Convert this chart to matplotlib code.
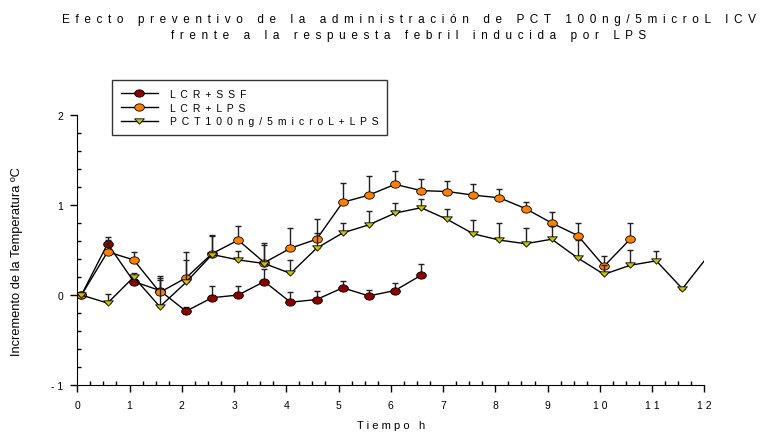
import numpy as np
import matplotlib
matplotlib.use("Agg")
import matplotlib.pyplot as plt
from matplotlib.path import Path
from matplotlib.ticker import MultipleLocator, FuncFormatter

plt.rcParams['font.family'] = ['Liberation Sans', 'DejaVu Sans']

# sampling times (h): every 30 min starting at 5 min
tiempo = [0.08, 0.58, 1.08, 1.58, 2.08, 2.58, 3.08, 3.58, 4.08, 4.58, 5.08, 5.58,
          6.08, 6.58, 7.08, 7.58, 8.08, 8.58, 9.08, 9.58, 10.08, 10.58, 11.08, 11.58, 12.08]

ssf = [0.0, 0.57, 0.15, 0.05, -0.18, -0.03, 0.0, 0.15, -0.08, -0.05, 0.08, -0.01, 0.05, 0.22]
ssf_err = [0, 0.08, 0.06, 0.14, 0.05, 0.13, 0.10, 0.14, 0.11, 0.09, 0.08, 0.07, 0.08, 0.13]

lps = [0.0, 0.48, 0.39, 0.03, 0.19, 0.46, 0.61, 0.36, 0.52, 0.62, 1.03, 1.11, 1.23, 1.16,
       1.15, 1.11, 1.08, 0.96, 0.80, 0.66, 0.32, 0.62]
lps_err = [0, 0.13, 0.09, 0.18, 0.29, 0.20, 0.16, 0.22, 0.22, 0.23, 0.21, 0.21, 0.15, 0.13,
           0.12, 0.12, 0.10, 0.07, 0.12, 0.14, 0.11, 0.18]

pct = [0.0, -0.09, 0.20, -0.13, 0.14, 0.45, 0.39, 0.35, 0.24, 0.52, 0.69, 0.78, 0.91, 0.97,
       0.84, 0.68, 0.61, 0.57, 0.62, 0.41, 0.23, 0.33, 0.38, 0.07, 0.44]
pct_err = [0, 0.10, 0.05, 0.30, 0.25, 0.22, 0.10, 0.21, 0.15, 0.17, 0.11, 0.15, 0.11, 0.10,
           0.12, 0.15, 0.19, 0.18, 0.15, 0.20, 0.10, 0.17, 0.11, 0, 0]

etiquetas = ["LCR+SSF", "LCR+LPS", "PCT100ng/5microL+LPS"]
colores = ["#8b0000", "#ff8000", "#c8c400"]


def sp(s, sep=" "):
    # the original export spreads the letters out
    return sep.join(s)


WIDE = " \u2009"

# flattened markers like in the original
circ = Path.unit_circle()
elipse = Path(circ.vertices * [1.0, 0.75], circ.codes)
tri = Path([(-1, 0.55), (1, 0.55), (0, -0.55), (-1, 0.55)],
           [Path.MOVETO, Path.LINETO, Path.LINETO, Path.CLOSEPOLY])

fig = plt.figure(figsize=(7.63, 4.35), dpi=100)
ax = fig.add_axes([0.1013, 0.1126, 0.8218, 0.6207])

series = [(ssf, ssf_err, elipse), (lps, lps_err, elipse), (pct, pct_err, tri)]
handles = []
for (y, err, mk), lab, col in zip(series, etiquetas, colores):
    n_err = len(err)
    t = tiempo[:len(y)]
    ax.errorbar(t[:n_err], y[:n_err], yerr=[np.zeros(n_err), err], fmt='none',
                ecolor='#202020', elinewidth=1.0, capsize=2.5, capthick=1.0)
    n_mk = min(len(y), 24)
    h, = ax.plot(t, y, '-', color='k', lw=1.0, marker=mk, markersize=7,
                 mfc=col, mec='k', mew=0.6, markevery=list(range(n_mk)),
                 label=sp(lab, WIDE))
    handles.append(h)

ax.set_xlim(0, 12)
ax.set_ylim(-1, 2)
for s in ['top', 'right']:
    ax.spines[s].set_visible(False)
ax.xaxis.set_major_locator(MultipleLocator(1))
ax.xaxis.set_minor_locator(MultipleLocator(0.25))
ax.yaxis.set_major_locator(MultipleLocator(1))
ax.yaxis.set_minor_locator(MultipleLocator(0.2))
fmt = FuncFormatter(lambda v, p: sp(str(int(round(v)))))
ax.xaxis.set_major_formatter(fmt)
ax.yaxis.set_major_formatter(fmt)
ax.tick_params(which='major', direction='out', length=5, width=1, labelsize=7.5, pad=6)
ax.tick_params(which='minor', direction='in', length=3, width=1)
ax.tick_params(axis='y', which='major', pad=5)

ax.set_xlabel(sp("Tiempo") + "   h", fontsize=8, labelpad=7)
ax.set_ylabel("Incremento de la Temperatura ºC", fontsize=9.3)
ax.yaxis.set_label_coords(-0.087, 0.46)

titulo = (sp("Efecto preventivo de la administración de PCT 100ng/5microL ICV", WIDE) + "\n" +
          sp("frente a la respuesta febril inducida por LPS", WIDE))
fig.text(0.536, 1 - 14 / 435, titulo, ha='center', va='top', fontsize=8.5,
         linespacing=1.5, multialignment='center')

leg = fig.legend(handles=handles, loc='upper left', bbox_to_anchor=(111.7 / 763, 1 - 81 / 435),
                 fontsize=7.5, frameon=True, fancybox=False, borderaxespad=0,
                 handlelength=3.6, handletextpad=1.1, labelspacing=0.35, borderpad=0.85)
leg.get_frame().set_edgecolor('k')
leg.get_frame().set_linewidth(1.0)

fig.savefig("out.png", dpi=100)
